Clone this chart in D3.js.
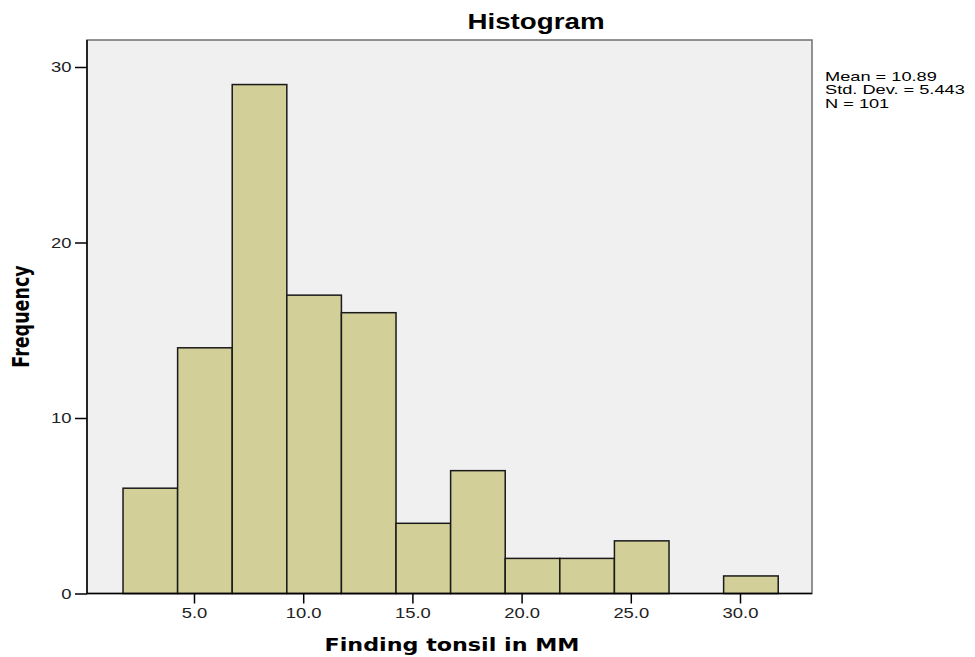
<!DOCTYPE html>
<html><head><meta charset="utf-8">
<script src="https://cdn.jsdelivr.net/npm/d3@7"></script>
<style>body{margin:0;background:#fff;}</style>
</head><body>
<svg id="c" width="975" height="657"></svg>
<script>
const binStarts = [1.75, 4.25, 6.75, 9.25, 11.75, 14.25, 16.75, 19.25, 21.75, 24.25, 26.75, 29.25];
const binWidth = 2.5;
const counts = [6, 14, 29, 17, 16, 4, 7, 2, 2, 3, 0, 1];
const xTicks = [5, 10, 15, 20, 25, 30];
const yTicks = [0, 10, 20, 30];
const statsLines = ["Mean = 10.89", "Std. Dev. = 5.443", "N = 101"];

const svg = d3.select("#c");
const L = 87, R = 812, T = 40, B = 593.5;
const x = d3.scaleLinear().domain([0, 33.2]).range([84.8, 84.8 + 33.2 * 21.84]);
const y = d3.scaleLinear().domain([0, 30]).range([B, 67]);
const SX = 1.28; // horizontal stretch of the original text

svg.append("rect").attr("x", L).attr("y", T).attr("width", R - L).attr("height", B - T)
  .attr("fill", "#f0f0f0").attr("stroke", "#707070").attr("stroke-width", 1.5);

svg.append("g").selectAll("rect").data(binStarts.map((s, i) => ({s, c: counts[i]})).filter(d => d.c > 0))
  .join("rect")
  .attr("x", d => x(d.s)).attr("width", d => x(d.s + binWidth) - x(d.s))
  .attr("y", d => y(d.c)).attr("height", d => y(0) - y(d.c))
  .attr("fill", "#d3cf98").attr("stroke", "#1a1a1a").attr("stroke-width", 1.5);

svg.append("line").attr("x1", L).attr("x2", L).attr("y1", T).attr("y2", B).attr("stroke", "#000").attr("stroke-width", 1.5);
svg.append("line").attr("x1", L).attr("x2", R).attr("y1", B).attr("y2", B).attr("stroke", "#000").attr("stroke-width", 1.5);

const tickFont = "Liberation Sans, Arial, sans-serif";
const yAxis = d3.axisLeft(y).tickValues(yTicks).tickSize(12).tickPadding(3).tickFormat(d3.format("d"));
const gy = svg.append("g").attr("transform", `translate(${L},0)`).call(yAxis);
gy.select(".domain").remove();
gy.selectAll("line").attr("stroke", "#000").attr("stroke-width", 1.5);
gy.selectAll("text").attr("font-family", tickFont).attr("font-size", 14.4).attr("fill", "#222")
  .attr("x", 0).attr("transform", `translate(-15.5,0) scale(${SX},1)`);

const xAxis = d3.axisBottom(x).tickValues(xTicks).tickSize(10).tickPadding(4).tickFormat(d3.format(".1f"));
const gx = svg.append("g").attr("transform", `translate(0,${B})`).call(xAxis);
gx.select(".domain").remove();
gx.selectAll("line").attr("stroke", "#000").attr("stroke-width", 1.5);
gx.selectAll("text").attr("font-family", tickFont).attr("font-size", 14.4).attr("fill", "#222")
  .attr("transform", `scale(${SX},1)`);

svg.append("text").attr("text-anchor", "middle")
  .attr("transform", `translate(536,29) scale(1.26,1)`)
  .attr("font-family", "Liberation Sans, Arial, sans-serif").attr("font-weight", "bold").attr("font-size", 22).attr("fill", "#000")
  .text("Histogram");

svg.append("text").attr("text-anchor", "middle")
  .attr("transform", `translate(452,651) scale(1.27,1)`)
  .attr("font-family", "DejaVu Sans, sans-serif").attr("font-weight", "bold").attr("font-size", 17.5).attr("fill", "#000")
  .text("Finding tonsil in MM");

svg.append("text").attr("text-anchor", "middle")
  .attr("transform", "translate(29,316.5) scale(1.27,1) rotate(-90)")
  .attr("font-family", "DejaVu Sans, sans-serif").attr("font-weight", "bold").attr("font-size", 17.5).attr("fill", "#000")
  .text("Frequency");

svg.append("g").selectAll("text").data(statsLines).join("text")
  .attr("transform", (d, i) => `translate(825,${81 + i * 13.3}) scale(1.38,1)`)
  .attr("font-family", "Liberation Sans, Arial, sans-serif").attr("font-size", 13.2).attr("fill", "#000")
  .text(d => d);
</script>
</body></html>
